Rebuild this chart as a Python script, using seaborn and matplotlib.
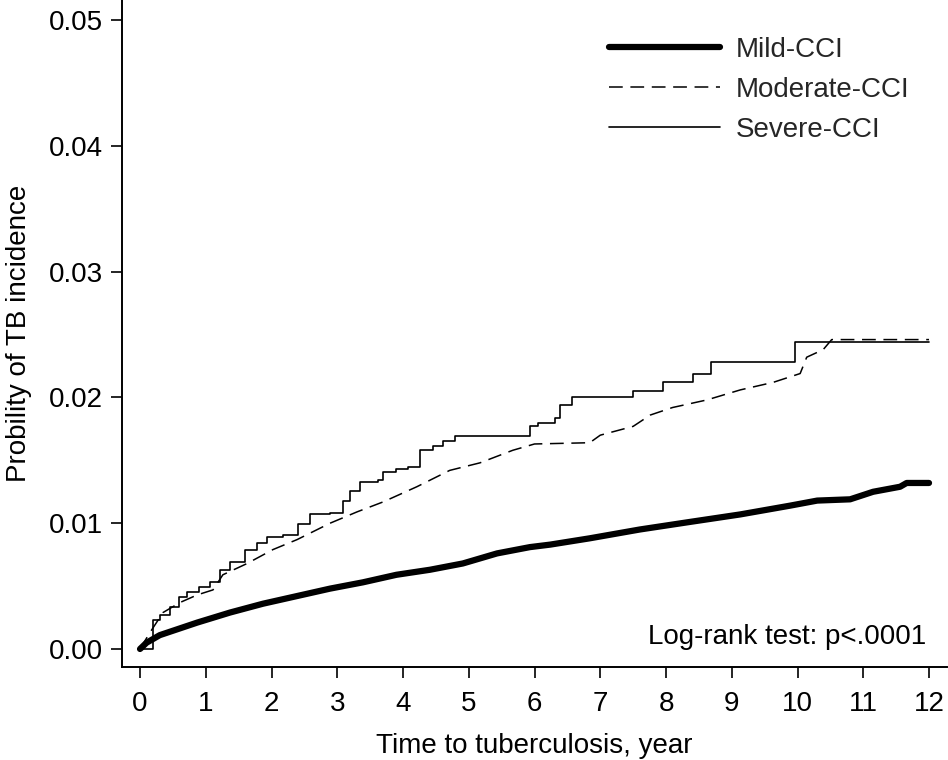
import matplotlib
matplotlib.use("Agg")
import matplotlib.pyplot as plt
import seaborn as sns
import pandas as pd

# Kaplan-Meier style cumulative incidence
sev_t = [0, 0.2, 0.3, 0.45, 0.6, 0.71, 0.9, 1.06, 1.22, 1.37, 1.6, 1.78, 1.93, 2.17, 2.4,
         2.59, 2.89, 3.09, 3.2, 3.35, 3.62, 3.70, 3.9, 4.08, 4.26, 4.45, 4.61, 4.79, 5.93,
         6.05, 6.31, 6.39, 6.57, 7.5, 7.95, 8.41, 8.68, 9.96, 12.0]
sev_p = [0, 0.0023, 0.0027, 0.0033, 0.0041, 0.0045, 0.0049, 0.0053, 0.0063, 0.0069, 0.0079,
         0.0084, 0.0089, 0.0091, 0.0099, 0.0107, 0.0108, 0.0118, 0.0126, 0.0133, 0.0134,
         0.0141, 0.0143, 0.0145, 0.0158, 0.0161, 0.0165, 0.0169, 0.0177, 0.0180, 0.0184,
         0.0194, 0.0200, 0.0205, 0.0212, 0.0219, 0.0228, 0.0244, 0.0244]

mod_t = [0, 0.15, 0.35, 0.61, 0.87, 1.11, 1.26, 1.63, 2.02, 2.39, 2.89, 3.3, 3.7, 4.21,
         4.71, 5.17, 5.67, 6.0, 6.84, 7.0, 7.5, 7.76, 8.1, 8.62, 9.13, 9.63, 10.04, 10.14,
         10.39, 10.52, 12.0]
mod_p = [0, 0.0013, 0.0029, 0.0037, 0.0043, 0.0047, 0.0059, 0.0068, 0.0079, 0.0087, 0.0100,
         0.0109, 0.0117, 0.0129, 0.0142, 0.0148, 0.0158, 0.0163, 0.0164, 0.0170, 0.0177,
         0.0186, 0.0192, 0.0198, 0.0206, 0.0212, 0.0219, 0.0232, 0.0238, 0.0246, 0.0246]

mild_t = [0, 0.1, 0.3, 0.87, 1.37, 1.87, 2.38, 2.89, 3.39, 3.9, 4.41, 4.91, 5.43, 5.93,
          6.24, 6.84, 7.6, 8.36, 9.13, 9.89, 10.3, 10.8, 11.15, 11.56, 11.66, 12.0]
mild_p = [0, 0.0005, 0.0011, 0.0021, 0.0029, 0.0036, 0.0042, 0.0048, 0.0053, 0.0059, 0.0063,
          0.0068, 0.0076, 0.0081, 0.0083, 0.0088, 0.0095, 0.0101, 0.0107, 0.0114, 0.0118,
          0.0119, 0.0125, 0.0129, 0.0132, 0.0132]

x_ticks = list(range(0, 13))
y_ticks = [0.00, 0.01, 0.02, 0.03, 0.04, 0.05]

sns.set_theme(style="ticks")
plt.rcParams["font.family"] = ["Liberation Sans", "DejaVu Sans"]
FS = 20

fig = plt.figure(figsize=(9.48, 7.6), dpi=100)
ax = fig.add_axes([0.1287, 0.1224, 0.870, 0.8776])

mild = pd.DataFrame({"t": mild_t, "p": mild_p})
mod = pd.DataFrame({"t": mod_t, "p": mod_p})
sev = pd.DataFrame({"t": sev_t, "p": sev_p})

sns.lineplot(data=mild, x="t", y="p", ax=ax, color="black", linewidth=4.5,
             solid_capstyle="round", label="Mild-CCI", estimator=None, sort=False)
sns.lineplot(data=mod, x="t", y="p", ax=ax, color="black", linewidth=1.1,
             label="Moderate-CCI", estimator=None, sort=False)
ax.lines[-1].set_dashes((9, 5))
sns.lineplot(data=sev, x="t", y="p", ax=ax, color="black", linewidth=1.2,
             drawstyle="steps-post", label="Severe-CCI", estimator=None, sort=False)

ax.set_xlim(-0.274, 12.27)
ax.set_ylim(-0.00143, 0.0516)
ax.set_xticks(x_ticks)
ax.set_yticks(y_ticks)
ax.set_yticklabels([f"{v:.2f}" for v in y_ticks])
ax.tick_params(axis="both", labelsize=FS, length=8, width=1.2, color="black",
               labelcolor="black", direction="out", pad=6)
ax.tick_params(axis="x", pad=9)
for side in ["left", "bottom"]:
    ax.spines[side].set_linewidth(1.4)
    ax.spines[side].set_color("black")
sns.despine(ax=ax)

ax.set_xlabel("Time to tuberculosis, year", fontsize=FS, labelpad=12, color="black")
ax.set_ylabel("Probility of TB incidence", fontsize=FS, labelpad=12, color="black")

ax.text(0.975, 0.045, "Log-rank test: p<.0001", transform=ax.transAxes,
        ha="right", va="center", fontsize=FS, color="black")

leg = ax.legend(loc="upper right", bbox_to_anchor=(0.985, 0.982), frameon=False,
                fontsize=FS, handlelength=4.0, handletextpad=0.55, labelspacing=0.5)

fig.savefig("out.png", dpi=100)
